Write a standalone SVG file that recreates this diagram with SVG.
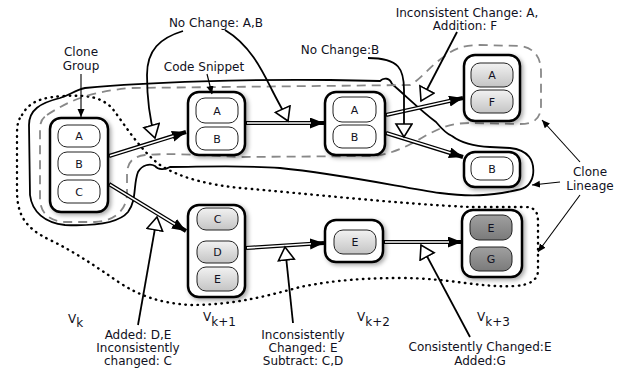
<svg xmlns="http://www.w3.org/2000/svg" width="628" height="368" viewBox="0 0 628 368">
<style>
text{font-family:"DejaVu Sans","Liberation Sans",sans-serif;font-size:12px;fill:#111122}
.cl{font-size:11px;text-anchor:middle}
.mid{text-anchor:middle}
.outer{fill:#fff;stroke:#000;stroke-width:2.5}
.cw{fill:#fff;stroke:#222;stroke-width:1}
.cg{fill:url(#lg);stroke:#222;stroke-width:1}
.cd{fill:url(#dg);stroke:#222;stroke-width:1}
.dbk{stroke:#000;stroke-width:4.2;fill:none}
.dwh{stroke:#fff;stroke-width:1.6;fill:none}
.ann{stroke:#000;stroke-width:1.8;fill:none;marker-end:url(#open)}
.lbl{stroke:#000;stroke-width:1.1;fill:none;marker-end:url(#small)}
</style>
<defs>
<linearGradient id="lg" x1="0" y1="0" x2="0" y2="1"><stop offset="0" stop-color="#f2f2f2"/><stop offset="1" stop-color="#c4c4c4"/></linearGradient>
<linearGradient id="dg" x1="0" y1="0" x2="0" y2="1"><stop offset="0" stop-color="#a0a0a0"/><stop offset="1" stop-color="#7a7a7a"/></linearGradient>
<filter id="sh" x="-20%" y="-20%" width="150%" height="150%"><feDropShadow dx="2" dy="2" stdDeviation="2" flood-color="#000" flood-opacity="0.35"/></filter>
<marker id="head" markerUnits="userSpaceOnUse" markerWidth="16" markerHeight="12" refX="14" refY="5.5" orient="auto"><path d="M0,0 L14,5.5 L0,11 z" fill="#000"/></marker>
<marker id="small" markerUnits="userSpaceOnUse" markerWidth="10" markerHeight="8" refX="8" refY="3.5" orient="auto"><path d="M0,0 L8,3.5 L0,7 z" fill="#000"/></marker>
<marker id="open" markerUnits="userSpaceOnUse" markerWidth="18" markerHeight="22" refX="14" refY="9" orient="auto"><path d="M1,1 L14,9 L1,17 z" fill="#fff" stroke="#000" stroke-width="1.6"/></marker>
</defs>
<rect width="628" height="368" fill="#fff"/>

<g id="regions" fill="none">
<path d="M22,115 C30,100 45,97 65,96 C85,95 100,96 112,108 C125,125 140,150 160,165 C180,178 210,185 240,188 C300,193 400,204 470,207 L525,207 C535,207 538,212 538,222 L538,270 C538,280 530,285 515,286 C480,288 450,278 400,278 C350,278 320,283 300,287 C260,298 230,305 190,305 C160,303 140,296 120,283 C95,266 75,252 50,240 C25,228 17,215 17,190 L17,135 C17,125 18,120 22,115 Z" stroke="#000" stroke-width="2.4" stroke-dasharray="0.5 5.5" stroke-linecap="round"/>
<path d="M517,190 C490,196 470,197 440,193 C400,187 340,174 280,168 C240,165 200,167 170,167 C165,170 158,170 155,166 C150,163 142,165 138,172 C133,185 137,200 128,212 C118,224 90,226 65,225 C45,223 32,212 30,195 L29,125 C29,110 40,103 60,98 C70,95 75,90 85,88 C150,82 250,79 330,80 L380,81 C384,77 390,78 392,84 C405,95 420,110 436,122 C441,128 447,134 452,136 C460,142 470,146 490,147 L510,148 C528,150 535,160 533,175 C531,185 525,189 517,190 Z" stroke="#000" stroke-width="1.8"/>
<path d="M47,115 C70,100 90,92 130,88 L410,85 C420,80 430,66 445,56 C455,48 465,45 480,45 L520,46 C535,48 541,58 541,72 L541,105 C541,118 535,124 520,124 L470,123 C450,123 440,128 425,136 C410,145 395,153 375,156 L240,157 C200,155 170,153 145,155 C130,157 127,165 127,175 L127,195 C126,210 115,221 95,222 L65,222 C48,221 40,212 40,198 L40,130 C40,122 42,118 47,115 Z" stroke="#888" stroke-width="1.8" stroke-dasharray="9 6"/>
</g>

<g id="n1"><rect class="outer" x="50" y="118" width="58" height="94" rx="11" filter="url(#sh)"/>
<rect class="cw" x="58" y="125" width="42" height="22" rx="9"/><text class="cl" x="79" y="140">A</text>
<rect class="cw" x="58" y="152" width="42" height="23" rx="9"/><text class="cl" x="79" y="168">B</text>
<rect class="cw" x="58" y="180" width="42" height="23" rx="9"/><text class="cl" x="79" y="196">C</text></g>

<g id="n2"><rect class="outer" x="188" y="92" width="57" height="63" rx="11" filter="url(#sh)"/>
<rect class="cw" x="196" y="98" width="42" height="25" rx="9"/><text class="cl" x="217" y="115">A</text>
<rect class="cw" x="196" y="127" width="42" height="23" rx="9"/><text class="cl" x="217" y="143">B</text></g>

<g id="n3"><rect class="outer" x="325" y="92" width="60" height="63" rx="11" filter="url(#sh)"/>
<rect class="cw" x="333" y="97" width="43" height="25" rx="9"/><text class="cl" x="354.5" y="114">A</text>
<rect class="cw" x="333" y="125" width="43" height="23" rx="9"/><text class="cl" x="354.5" y="141">B</text></g>

<g id="n4"><rect class="outer" x="464" y="55" width="56" height="66" rx="11" filter="url(#sh)"/>
<rect class="cg" x="471" y="63" width="42" height="24" rx="9"/><text class="cl" x="492" y="79">A</text>
<rect class="cg" x="471" y="90" width="42" height="23" rx="9"/><text class="cl" x="492" y="106">F</text></g>

<g id="n5"><rect class="outer" x="464" y="152" width="56" height="35" rx="11" filter="url(#sh)"/>
<rect class="cw" x="471" y="157" width="42" height="23" rx="9"/><text class="cl" x="492" y="173">B</text></g>

<g id="n6"><rect class="outer" x="188" y="205" width="57" height="92" rx="11" filter="url(#sh)"/>
<rect class="cg" x="197" y="208" width="41" height="22" rx="9"/><text class="cl" x="217.5" y="223">C</text>
<rect class="cg" x="197" y="241" width="41" height="22" rx="9"/><text class="cl" x="217.5" y="256">D</text>
<rect class="cg" x="197" y="267" width="41" height="24" rx="9"/><text class="cl" x="217.5" y="283">E</text></g>

<g id="n7"><rect class="outer" x="325" y="220" width="58" height="42" rx="11" filter="url(#sh)"/>
<rect class="cg" x="334" y="230" width="42" height="24" rx="9"/><text class="cl" x="355" y="246">E</text></g>

<g id="n8"><rect class="outer" x="462" y="210" width="60" height="67" rx="11" filter="url(#sh)"/>
<rect class="cd" x="470" y="215" width="42" height="25" rx="9"/><text class="cl" x="491" y="232">E</text>
<rect class="cd" x="470" y="247" width="42" height="24" rx="9"/><text class="cl" x="491" y="263">G</text></g>

<g id="connectors">
<path class="dbk" d="M109,156 L186,132" marker-end="url(#head)"/><path class="dwh" d="M110,155.7 L173.6,135.9"/>
<path class="dbk" d="M109,184 L186,231" marker-end="url(#head)"/><path class="dwh" d="M110,184.6 L174.9,224.2"/>
<path class="dbk" d="M246,123 L324,123" marker-end="url(#head)"/><path class="dwh" d="M247,123 L311,123"/>
<path class="dbk" d="M386,115 L463,98" marker-end="url(#head)"/><path class="dwh" d="M387,114.8 L450.3,100.8"/>
<path class="dbk" d="M386,133 L463,157" marker-end="url(#head)"/><path class="dwh" d="M387,133.3 L450.6,153.1"/>
<path class="dbk" d="M246,248 L324,243" marker-end="url(#head)"/><path class="dwh" d="M247,247.9 L311,243.8"/>
<path class="dbk" d="M384,242 L462,242" marker-end="url(#head)"/><path class="dwh" d="M385,242 L449,242"/>
</g>

<g id="annotations">
<path class="ann" d="M183,31 C160,38 147,50 147,75 C147,100 150,120 155,138"/>
<path class="ann" d="M225,30 C250,45 262,70 272,90 C278,102 284,112 288,121"/>
<path class="ann" d="M368,58 C400,58 404,70 404,90 L404,137"/>
<path class="ann" d="M457,32 L421,101"/>
<path class="ann" d="M138,325 L157,217"/>
<path class="ann" d="M293,323 L285,247"/>
<path class="ann" d="M470,337 L421,245"/>
<path class="lbl" d="M81,74 L81,117"/>
<path class="lbl" d="M207,74 L212,94"/>
<path class="lbl" d="M560,182 L532,185"/>
<path class="lbl" d="M580,162 L542,120"/>
<path class="lbl" d="M580,195 L538,252"/>
</g>

<g id="labels">
<text class="mid" x="81" y="56">Clone</text>
<text class="mid" x="81" y="70">Group</text>
<text class="mid" x="216" y="27">No Change: A,B</text>
<text class="mid" x="204" y="71">Code Snippet</text>
<text class="mid" x="340" y="54">No Change:B</text>
<text class="mid" x="467" y="17">Inconsistent Change: A,</text>
<text class="mid" x="465" y="30">Addition: F</text>
<text class="mid" x="590" y="176">Clone</text>
<text class="mid" x="590" y="190">Lineage</text>
<text class="mid" x="138" y="339">Added: D,E</text>
<text class="mid" x="138" y="352">Inconsistently</text>
<text class="mid" x="138" y="365">changed: C</text>
<text class="mid" x="303" y="339">Inconsistently</text>
<text class="mid" x="303" y="352">Changed: E</text>
<text class="mid" x="303" y="365">Subtract: C,D</text>
<text class="mid" x="480" y="351">Consistently Changed:E</text>
<text class="mid" x="480" y="365">Added:G</text>
<text x="68" y="323">V<tspan dy="4">k</tspan></text>
<text x="203" y="321">V<tspan dy="5">k+1</tspan></text>
<text x="357" y="321">V<tspan dy="5">k+2</tspan></text>
<text x="477" y="321">V<tspan dy="5">k+3</tspan></text>
</g>
</svg>
